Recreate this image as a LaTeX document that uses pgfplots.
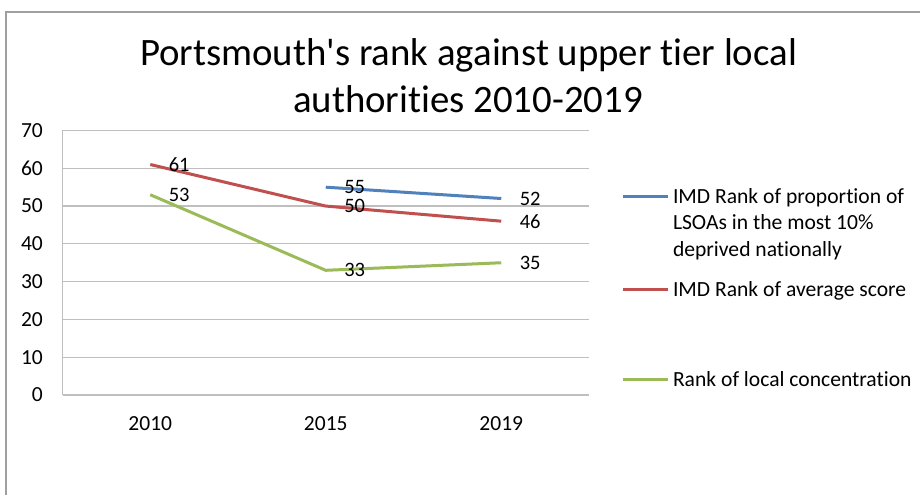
\documentclass[border=0pt]{standalone}
\usepackage{fontspec}
\setmainfont{Carlito}[Ligatures={TeX,NoCommon}]
\usepackage{pgfplots}
\pgfplotsset{compat=1.18}
\definecolor{sBlue}{HTML}{4F81BD}
\definecolor{sRed}{HTML}{C0504D}
\definecolor{sGreen}{HTML}{9BBB59}
\definecolor{gridc}{HTML}{BFBFBF}
\definecolor{framec}{HTML}{A0A0A0}
\newcommand{\tickfont}{\fontsize{21.5}{26}\selectfont}
\newcommand{\legfont}{\fontsize{21.6}{26.5}\selectfont}
\newcommand{\titlefont}{\fontsize{38.8}{47}\selectfont}
\begin{document}
\begin{tikzpicture}[x=1pt,y=1pt]
\useasboundingbox (0,0) rectangle (920,495);
\fill[white] (0,0) rectangle (920,495);
\draw[framec, line width=2pt] (6,0) -- (6,483.3) -- (920,483.3);
\node[anchor=base, inner sep=0pt, font=\titlefont] at (468.5,429) {Portsmouth\textquotesingle s rank against upper tier local};
\node[anchor=base, inner sep=0pt, font=\titlefont] at (468,382) {authorities 2010-2019};
\begin{axis}[
  at={(62.5pt,100pt)}, anchor=south west,
  scale only axis, width=526.5pt, height=264.5pt,
  xmin=-0.5, xmax=2.5, ymin=0, ymax=70,
  xtick={0,1,2}, xticklabels={2010,2015,2019},
  ytick={0,10,...,70},
  axis lines*=left,
  axis line style={draw=gridc, line width=1.2pt, -},
  ymajorgrids, grid style={draw=gridc, line width=1.2pt},
  major tick length=0pt, tick style={draw=none},
  ticklabel style={font=\tickfont, text=black, inner sep=0pt},
  yticklabel style={anchor=east, xshift=-19.5pt},
  xticklabel style={anchor=north, yshift=-21pt},
  /pgf/number format/assume math mode=true,
  clip=false,
  nodes near coords,
  every node near coord/.append style={anchor=west, xshift=14pt, inner sep=3pt, font=\fontsize{20.5}{24}\selectfont, text=black},
  legend image code/.code={\draw[#1] (0pt,0pt) -- (45pt,0pt);},
  legend style={draw=none, fill=none, at={(1.0621,0.782)}, anchor=north west,
    inner sep=0pt, outer sep=0pt, row sep=10pt, column sep=3.3pt,
    nodes={inner sep=0pt, font=\legfont, text=black}},
  legend cell align=left,
]
\addplot[sBlue, line width=3pt] coordinates {(1,55) (2,52)};
\addlegendentry{IMD Rank of proportion of}
\addlegendimage{empty legend}
\addlegendentry{LSOAs in the most 10\%}
\addlegendimage{empty legend}
\addlegendentry{deprived nationally}
\addlegendimage{empty legend}
\addlegendentry{\rule{0pt}{2pt}}
\addplot[sRed, line width=3pt] coordinates {(0,61) (1,50) (2,46)};
\addlegendentry{IMD Rank of average score}
\addlegendimage{empty legend}
\addlegendentry{\rule{0pt}{52pt}}
\addplot[sGreen, line width=3pt] coordinates {(0,53) (1,33) (2,35)};
\addlegendentry{Rank of local concentration}
\end{axis}
\end{tikzpicture}
\end{document}
